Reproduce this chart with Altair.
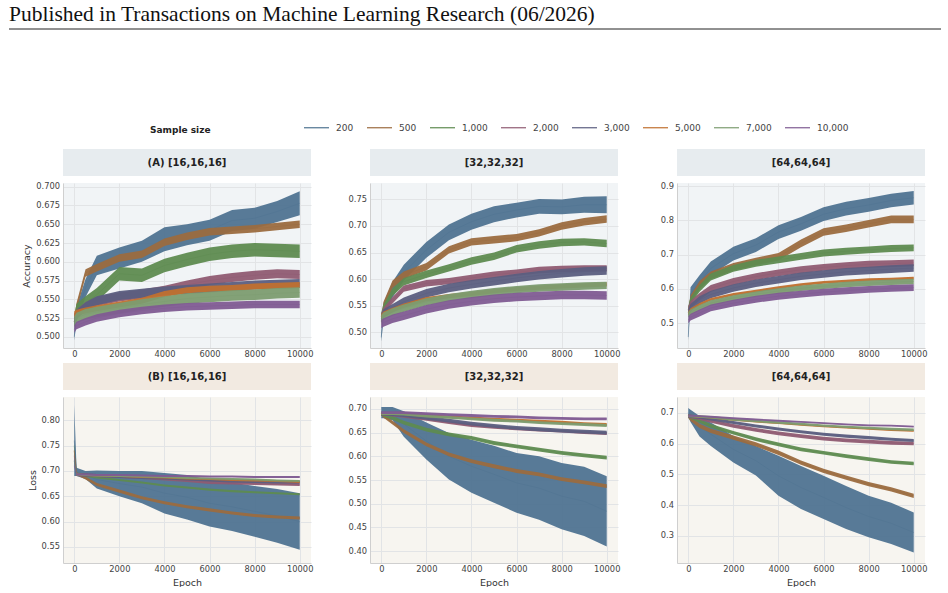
import altair as alt
import pandas as pd

# ---------------------------------------------------------------------------
# Data: training curves per hidden-layer configuration and sample size.
# Each series holds the band centre (mid) and half-width (spread) of the
# noisy per-epoch trace at the epochs listed below.
# ---------------------------------------------------------------------------
EPOCHS = [0, 100, 500, 1000, 2000, 3000, 4000, 5000, 6000, 7000, 8000, 9000, 10000]
SAMPLE_SIZES = ["200", "500", "1,000", "2,000", "3,000", "5,000", "7,000", "10,000"]
COLORS = ["#4f7391", "#9b6b3f", "#5e8b50", "#8f5b72", "#5b5e80", "#c0702f", "#7c9c70", "#7f5b92"]
X_TICKS = [0, 2000, 4000, 6000, 8000, 10000]

ACC_16 = {
    "200": ([0.500, 0.530, 0.565, 0.595, 0.605, 0.614, 0.630, 0.636, 0.642, 0.655, 0.658, 0.667, 0.678],
            [0.005, 0.010, 0.012, 0.013, 0.014, 0.014, 0.016, 0.014, 0.014, 0.014, 0.014, 0.014, 0.016]),
    "500": ([0.520, 0.540, 0.585, 0.592, 0.605, 0.610, 0.626, 0.634, 0.640, 0.642, 0.644, 0.647, 0.650], 0.005),
    "1,000": ([0.520, 0.535, 0.545, 0.556, 0.584, 0.582, 0.595, 0.603, 0.610, 0.614, 0.616, 0.615, 0.614], 0.009),
    "2,000": ([0.525, 0.530, 0.540, 0.547, 0.553, 0.557, 0.562, 0.569, 0.575, 0.579, 0.582, 0.584, 0.583], 0.006),
    "3,000": ([0.520, 0.530, 0.540, 0.548, 0.555, 0.558, 0.561, 0.563, 0.565, 0.567, 0.569, 0.570, 0.571], 0.006),
    "5,000": ([0.530, 0.532, 0.535, 0.538, 0.543, 0.548, 0.557, 0.562, 0.564, 0.565, 0.567, 0.568, 0.569], 0.004),
    "7,000": ([0.520, 0.525, 0.530, 0.533, 0.538, 0.543, 0.547, 0.551, 0.553, 0.555, 0.556, 0.558, 0.559], 0.007),
    "10,000": ([0.510, 0.515, 0.520, 0.525, 0.531, 0.535, 0.538, 0.540, 0.541, 0.542, 0.543, 0.543, 0.543], 0.005),
}

ACC_32 = {
    "200": ([0.490, 0.540, 0.580, 0.612, 0.655, 0.688, 0.708, 0.722, 0.730, 0.737, 0.736, 0.740, 0.740],
            [0.008, 0.015, 0.015, 0.015, 0.015, 0.015, 0.015, 0.015, 0.014, 0.014, 0.014, 0.015, 0.016]),
    "500": ([0.520, 0.550, 0.590, 0.607, 0.623, 0.655, 0.670, 0.674, 0.678, 0.687, 0.700, 0.708, 0.713], 0.007),
    "1,000": ([0.530, 0.545, 0.575, 0.595, 0.609, 0.621, 0.634, 0.643, 0.657, 0.664, 0.669, 0.670, 0.667], 0.007),
    "2,000": ([0.530, 0.540, 0.560, 0.582, 0.592, 0.596, 0.602, 0.608, 0.612, 0.617, 0.619, 0.620, 0.620], 0.006),
    "3,000": ([0.525, 0.535, 0.545, 0.557, 0.573, 0.583, 0.590, 0.596, 0.602, 0.607, 0.611, 0.614, 0.616], 0.008),
    "5,000": ([0.530, 0.535, 0.542, 0.550, 0.562, 0.568, 0.572, 0.577, 0.581, 0.584, 0.586, 0.588, 0.590], 0.004),
    "7,000": ([0.525, 0.530, 0.538, 0.545, 0.557, 0.565, 0.571, 0.576, 0.580, 0.583, 0.585, 0.587, 0.588], 0.007),
    "10,000": ([0.515, 0.518, 0.525, 0.531, 0.543, 0.552, 0.558, 0.563, 0.566, 0.568, 0.570, 0.570, 0.569], 0.008),
}

ACC_64 = {
    "200": ([0.460, 0.585, 0.620, 0.660, 0.703, 0.728, 0.766, 0.790, 0.818, 0.834, 0.845, 0.858, 0.866],
            [0.010, 0.020, 0.020, 0.020, 0.020, 0.020, 0.020, 0.020, 0.020, 0.020, 0.020, 0.020, 0.020]),
    "500": ([0.530, 0.570, 0.612, 0.640, 0.665, 0.680, 0.694, 0.733, 0.766, 0.777, 0.790, 0.803, 0.803], 0.011),
    "1,000": ([0.540, 0.565, 0.602, 0.635, 0.660, 0.675, 0.685, 0.695, 0.705, 0.710, 0.714, 0.718, 0.720], 0.010),
    "2,000": ([0.540, 0.555, 0.578, 0.602, 0.622, 0.636, 0.647, 0.656, 0.663, 0.668, 0.672, 0.674, 0.676], 0.010),
    "3,000": ([0.530, 0.545, 0.568, 0.584, 0.603, 0.617, 0.627, 0.637, 0.644, 0.650, 0.654, 0.658, 0.661], 0.011),
    "5,000": ([0.530, 0.540, 0.555, 0.570, 0.584, 0.594, 0.604, 0.613, 0.619, 0.623, 0.627, 0.629, 0.632], 0.004),
    "7,000": ([0.525, 0.532, 0.545, 0.559, 0.574, 0.585, 0.594, 0.602, 0.608, 0.613, 0.617, 0.620, 0.622], 0.008),
    "10,000": ([0.510, 0.518, 0.530, 0.545, 0.559, 0.570, 0.579, 0.585, 0.591, 0.595, 0.599, 0.602, 0.604], 0.010),
}

LOSS_16 = {
    "200": ([0.760, 0.698, 0.692, 0.683, 0.675, 0.668, 0.656, 0.648, 0.636, 0.629, 0.620, 0.611, 0.600],
            [0.070, 0.008, 0.008, 0.018, 0.025, 0.032, 0.040, 0.044, 0.046, 0.048, 0.050, 0.053, 0.056]),
    "500": ([0.740, 0.695, 0.686, 0.673, 0.660, 0.647, 0.637, 0.629, 0.623, 0.617, 0.612, 0.609, 0.607], 0.003),
    "1,000": ([0.750, 0.695, 0.690, 0.687, 0.682, 0.677, 0.671, 0.667, 0.663, 0.660, 0.658, 0.656, 0.654], 0.002),
    "2,000": ([0.730, 0.693, 0.692, 0.691, 0.689, 0.687, 0.684, 0.681, 0.677, 0.676, 0.675, 0.674, 0.673], 0.003),
    "3,000": ([0.720, 0.693, 0.692, 0.691, 0.689, 0.687, 0.686, 0.684, 0.682, 0.680, 0.679, 0.678, 0.678], 0.003),
    "5,000": ([0.740, 0.693, 0.692, 0.691, 0.690, 0.688, 0.687, 0.685, 0.684, 0.682, 0.681, 0.680, 0.678], 0.002),
    "7,000": ([0.720, 0.693, 0.692, 0.691, 0.690, 0.689, 0.688, 0.686, 0.685, 0.684, 0.683, 0.681, 0.680], 0.002),
    "10,000": ([0.710, 0.693, 0.693, 0.692, 0.692, 0.691, 0.690, 0.690, 0.689, 0.689, 0.688, 0.688, 0.688], 0.002),
}

LOSS_32 = {
    "200": ([0.692, 0.692, 0.690, 0.668, 0.632, 0.600, 0.579, 0.562, 0.544, 0.533, 0.516, 0.505, 0.484],
            [0.012, 0.012, 0.014, 0.027, 0.039, 0.049, 0.056, 0.060, 0.063, 0.067, 0.070, 0.073, 0.074]),
    "500": ([0.690, 0.685, 0.671, 0.653, 0.625, 0.604, 0.590, 0.579, 0.569, 0.562, 0.552, 0.545, 0.537], 0.004),
    "1,000": ([0.690, 0.688, 0.681, 0.671, 0.656, 0.646, 0.639, 0.628, 0.621, 0.614, 0.607, 0.602, 0.597], 0.004),
    "2,000": ([0.690, 0.689, 0.687, 0.684, 0.678, 0.671, 0.665, 0.661, 0.658, 0.655, 0.653, 0.650, 0.648], 0.003),
    "3,000": ([0.690, 0.690, 0.689, 0.687, 0.681, 0.675, 0.669, 0.664, 0.660, 0.657, 0.654, 0.652, 0.650], 0.004),
    "5,000": ([0.690, 0.690, 0.690, 0.690, 0.686, 0.683, 0.681, 0.678, 0.676, 0.674, 0.672, 0.669, 0.667], 0.003),
    "7,000": ([0.690, 0.690, 0.690, 0.689, 0.685, 0.682, 0.679, 0.676, 0.674, 0.671, 0.669, 0.667, 0.665], 0.003),
    "10,000": ([0.692, 0.692, 0.692, 0.692, 0.690, 0.688, 0.686, 0.684, 0.683, 0.681, 0.680, 0.679, 0.679], 0.003),
}

LOSS_64 = {
    "200": ([0.700, 0.690, 0.656, 0.630, 0.581, 0.544, 0.495, 0.457, 0.425, 0.392, 0.363, 0.341, 0.311],
            [0.015, 0.020, 0.033, 0.038, 0.043, 0.048, 0.065, 0.070, 0.070, 0.070, 0.067, 0.067, 0.065]),
    "500": ([0.690, 0.680, 0.657, 0.641, 0.619, 0.597, 0.570, 0.538, 0.511, 0.489, 0.468, 0.451, 0.430], 0.007),
    "1,000": ([0.690, 0.686, 0.673, 0.657, 0.635, 0.614, 0.597, 0.581, 0.570, 0.559, 0.549, 0.540, 0.535], 0.006),
    "2,000": ([0.690, 0.688, 0.682, 0.673, 0.657, 0.644, 0.633, 0.624, 0.616, 0.610, 0.606, 0.602, 0.600], 0.006),
    "3,000": ([0.690, 0.689, 0.685, 0.680, 0.668, 0.657, 0.647, 0.638, 0.630, 0.624, 0.619, 0.614, 0.610], 0.005),
    "5,000": ([0.690, 0.689, 0.687, 0.684, 0.677, 0.671, 0.666, 0.661, 0.656, 0.652, 0.648, 0.644, 0.641], 0.003),
    "7,000": ([0.690, 0.689, 0.688, 0.685, 0.678, 0.673, 0.668, 0.663, 0.658, 0.654, 0.650, 0.647, 0.645], 0.004),
    "10,000": ([0.690, 0.690, 0.689, 0.687, 0.682, 0.678, 0.674, 0.670, 0.666, 0.662, 0.659, 0.658, 0.655], 0.003),
}

RUNNING_HEAD = "Published in Transactions on Machine Learning Research (06/2026)"

# Panel styling
ROW_A_HEADER, ROW_A_BG = "#e7ecef", "#f1f4f6"
ROW_B_HEADER, ROW_B_BG = "#f2eae1", "#f7f5f0"
PANEL_W = 248
FONT = "DejaVu Sans"

stroke_scale = alt.Scale(domain=SAMPLE_SIZES, range=COLORS)
fill_scale = alt.Scale(domain=SAMPLE_SIZES, range=COLORS)

size_legend = alt.Legend(
    title="Sample size",
    orient="none",
    legendX=87,
    legendY=-69,
    direction="horizontal",
    columns=8,
    titleOrient="left",
    titleBaseline="line-top",
    titleLineHeight=14,
    titlePadding=92,
    titleFont=FONT,
    titleFontSize=9,
    titleFontWeight="bold",
    titleColor="#222222",
    labelFont=FONT,
    labelFontSize=9,
    labelColor="#444444",
    labelOffset=6,
    columnPadding=10,
    symbolType="stroke",
    symbolSize=625,
    symbolStrokeWidth=1.2,
)


def panel_frame(series):
    rows = []
    for size, (mid, spread) in series.items():
        spreads = spread if isinstance(spread, list) else [spread] * len(EPOCHS)
        for e, m, s in zip(EPOCHS, mid, spreads):
            rows.append({"size": size, "epoch": e, "mid": m, "lo": m - s, "hi": m + s})
    return pd.DataFrame(rows)


def strip(label, color):
    """Grey/beige title strip drawn just above a panel's plot area."""
    src = alt.Chart(pd.DataFrame({"label": [label]}))
    box = src.mark_rect(color=color).encode(
        x=alt.value(0), x2=alt.value(PANEL_W), y=alt.value(-34), y2=alt.value(-7)
    )
    text = src.mark_text(font=FONT, fontSize=10, fontWeight="bold", color="#222222").encode(
        x=alt.value(PANEL_W / 2), y=alt.value(-20), text="label:N"
    )
    return [box, text]


def running_head():
    src = alt.Chart(pd.DataFrame({"head": [RUNNING_HEAD]}))
    text = src.mark_text(
        align="left", baseline="alphabetic", font="Liberation Serif", fontSize=21.5, color="#111111"
    ).encode(x=alt.value(-54), y=alt.value(-162), text="head:N")
    rule = src.mark_rule(color="#222222", strokeWidth=1).encode(
        x=alt.value(-54), x2=alt.value(878), y=alt.value(-154)
    )
    return [text, rule]


def panel(series, y_domain, y_ticks, y_fmt, bg, height, label, strip_color,
          y_title=None, x_title=None, extra=()):
    df = panel_frame(series)
    x_enc = alt.X(
        "epoch:Q",
        scale=alt.Scale(domain=[-500, 10500], nice=False, zero=False),
        axis=alt.Axis(values=X_TICKS, format="d", title=x_title),
    )
    y_scale = alt.Scale(domain=y_domain, nice=False, zero=False)
    y_axis = alt.Axis(values=y_ticks, format=y_fmt, title=y_title)
    base = alt.Chart(df)
    # centre lines sit underneath the bands; they carry the sample-size legend
    lines = base.mark_line(strokeWidth=0.5).encode(
        x=x_enc,
        y=alt.Y("mid:Q", scale=y_scale, axis=y_axis),
        stroke=alt.Stroke("size:N", scale=stroke_scale, legend=size_legend),
    )
    bands = [
        base.transform_filter(alt.datum.size == s)
        .mark_area(opacity=0.95)
        .encode(
            x=x_enc,
            y=alt.Y("lo:Q", scale=y_scale, axis=y_axis),
            y2="hi:Q",
            fill=alt.Fill("size:N", scale=fill_scale, legend=None),
        )
        for s in SAMPLE_SIZES
    ]
    layers = [lines, *bands, *strip(label, strip_color), *extra]
    return alt.layer(*layers).properties(
        width=PANEL_W, height=height, view=alt.ViewBackground(fill=bg, strokeWidth=0)
    )


panels = [
    panel(ACC_16, [0.485, 0.705], [0.5, 0.525, 0.55, 0.575, 0.6, 0.625, 0.65, 0.675, 0.7], ".3f",
          ROW_A_BG, 165, "(A) [16,16,16]", ROW_A_HEADER, y_title="Accuracy", extra=running_head()),
    panel(ACC_32, [0.47, 0.781], [0.5, 0.55, 0.6, 0.65, 0.7, 0.75], ".2f",
          ROW_A_BG, 165, "[32,32,32]", ROW_A_HEADER),
    panel(ACC_64, [0.428, 0.909], [0.5, 0.6, 0.7, 0.8, 0.9], ".1f",
          ROW_A_BG, 165, "[64,64,64]", ROW_A_HEADER),
    panel(LOSS_16, [0.518, 0.846], [0.55, 0.6, 0.65, 0.7, 0.75, 0.8], ".2f",
          ROW_B_BG, 166, "(B) [16,16,16]", ROW_B_HEADER, y_title="Loss", x_title="Epoch"),
    panel(LOSS_32, [0.375, 0.725], [0.4, 0.45, 0.5, 0.55, 0.6, 0.65, 0.7], ".2f",
          ROW_B_BG, 166, "[32,32,32]", ROW_B_HEADER, x_title="Epoch"),
    panel(LOSS_64, [0.212, 0.751], [0.3, 0.4, 0.5, 0.6, 0.7], ".1f",
          ROW_B_BG, 166, "[64,64,64]", ROW_B_HEADER, x_title="Epoch"),
]

chart = (
    alt.concat(*panels, columns=3, spacing={"row": 49, "column": 59}, bounds="flush")
    .resolve_scale(stroke="shared", fill="shared")
    .resolve_legend(stroke="shared")
    .properties(padding={"left": 8, "top": 4, "right": 0, "bottom": 0}, background="white")
    .configure_axis(
        labelFont=FONT,
        labelFontSize=8.3,
        labelColor="#444444",
        titleFont=FONT,
        titleFontSize=9.5,
        titleFontWeight="normal",
        titleColor="#333333",
        gridColor="#e2e4e6",
        gridWidth=1,
        domainColor="#cfcfcf",
        ticks=False,
    )
    .configure_axisX(labelPadding=1, titlePadding=5)
    .configure_axisY(labelPadding=3.5, titlePadding=4)
    .configure_view(strokeWidth=0)
)

chart.save("out.html", embed_options={"renderer": "svg", "actions": False})
